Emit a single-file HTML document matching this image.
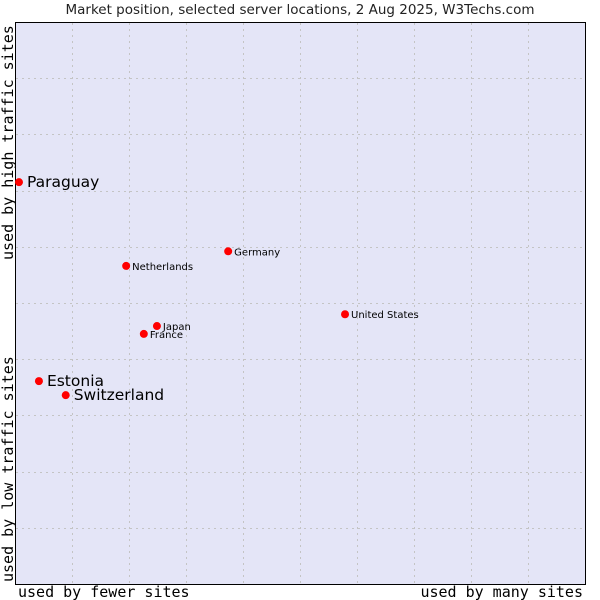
<!DOCTYPE html>
<html><head><meta charset="utf-8"><style>
body{margin:0;background:#fff;}
svg{display:block;font-family:"DejaVu Sans","Liberation Sans",sans-serif;}
</style></head><body>
<svg id="chart" width="600" height="600">
<text x="300" y="14" text-anchor="middle" font-size="13.5" fill="#222">Market position, selected server locations, 2 Aug 2025, W3Techs.com</text>
<rect x="15.5" y="22.5" width="570" height="562" fill="#e4e5f7" stroke="#000" stroke-width="1"/>
<g id="grid"></g>
<g id="points"></g>
<text x="18" y="597" font-family="DejaVu Sans Mono,Liberation Mono,monospace" font-size="15" fill="#000">used by fewer sites</text>
<text x="583" y="597" text-anchor="end" font-family="DejaVu Sans Mono,Liberation Mono,monospace" font-size="15" fill="#000">used by many sites</text>
<text transform="translate(13,582) rotate(-90)" font-family="DejaVu Sans Mono,Liberation Mono,monospace" font-size="15" fill="#000">used by low traffic sites</text>
<text transform="translate(13,260) rotate(-90)" font-family="DejaVu Sans Mono,Liberation Mono,monospace" font-size="15" fill="#000">used by high traffic sites</text>
</svg>
<script>
const names=["Paraguay","Estonia","Switzerland","Netherlands","Germany","Japan","France","United States"];
const xVals=[0.07,0.42,0.89,1.95,3.74,2.49,2.26,5.79];
const yVals=[7.15,3.61,3.36,5.66,5.92,4.59,4.45,4.80];
const bigLabel=[true,true,true,false,false,false,false,false];
const NS="http://www.w3.org/2000/svg";
const X0=15,Y0=584,UX=57,UY=56.2;
const sx=v=>X0+v*UX, sy=v=>Y0-v*UY;
const grid=document.getElementById('grid');
for(let i=1;i<10;i++){
 const l=document.createElementNS(NS,'line');
 
 
 const x=Math.round(sx(i))+0.5;
 l.setAttribute('x1',x);l.setAttribute('x2',x);l.setAttribute('y1',23);l.setAttribute('y2',584);
 l.setAttribute('stroke','#c4c4c4');l.setAttribute('stroke-dasharray','2,4');grid.appendChild(l);
 const h=document.createElementNS(NS,'line');
 
 
 const y=Math.round(sy(i))+0.5;
 h.setAttribute('x1',16);h.setAttribute('x2',585);h.setAttribute('y1',y);h.setAttribute('y2',y);
 h.setAttribute('stroke','#c4c4c4');h.setAttribute('stroke-dasharray','2,4');grid.appendChild(h);
}
const pts=document.getElementById('points');
names.forEach((n,i)=>{
 const cx=sx(xVals[i]),cy=sy(yVals[i]);
 const c=document.createElementNS(NS,'circle');
 
 
 c.setAttribute('cx',cx);c.setAttribute('cy',cy);c.setAttribute('r',4);c.setAttribute('fill','#f00');
 pts.appendChild(c);
 const t=document.createElementNS(NS,'text');
 
 
 const big=bigLabel[i];
 t.setAttribute('x',cx+(big?8:6));t.setAttribute('y',cy+(big?5:4));
 t.setAttribute('font-size',big?15.5:10);t.setAttribute('fill','#000');
 t.textContent=n;pts.appendChild(t);
});
</script>
</body></html>
